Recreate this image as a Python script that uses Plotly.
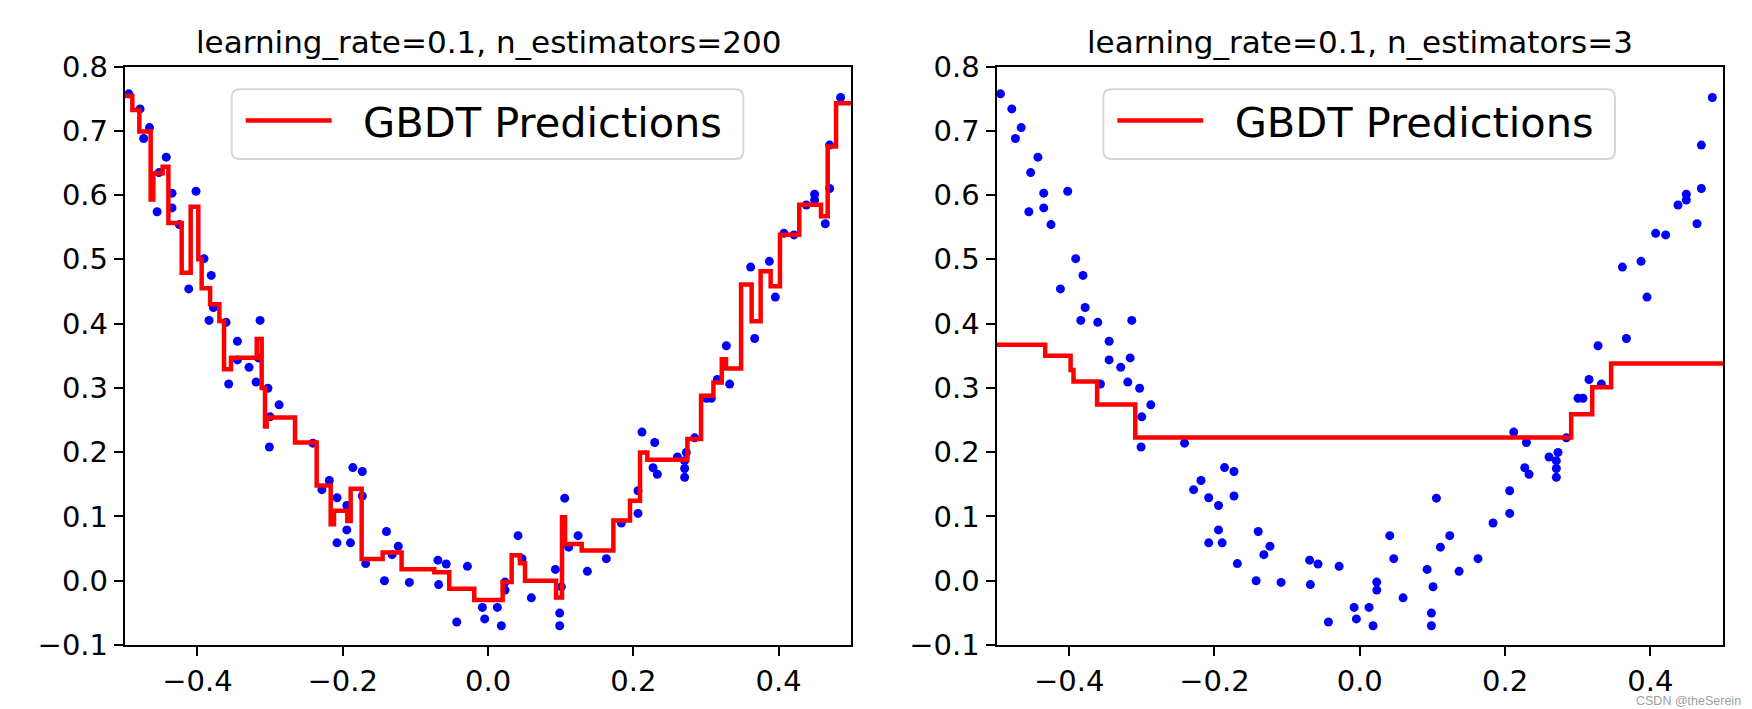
import plotly.graph_objects as go

# ---- data ----
X = [-0.4945, -0.479, -0.466, -0.474, -0.443, -0.453, -0.435, -0.402, -0.4555, -0.435,
     -0.425, -0.391, -0.381, -0.412, -0.378, -0.384, -0.3606, -0.3138, -0.345, -0.345,
     -0.316, -0.329, -0.357, -0.3193, -0.303, -0.2876, -0.300,
     -0.301, -0.2412, -0.1861, -0.1731, -0.2185, -0.2287, -0.2079, -0.1731, -0.1944, -0.1944,
     -0.2079, -0.1894, -0.1398, -0.1236, -0.132, -0.1685, -0.1426, -0.1083, -0.069, -0.0575,
     -0.068,
     -0.0284, -0.0431, -0.0078, -0.0046, 0.0128, 0.0183, 0.0234, 0.0234, 0.0413, 0.0468,
     0.0596, 0.0927, 0.1009, 0.0986, 0.0986, 0.1055, 0.111, 0.1239, 0.1367, 0.1628,
     0.1835, 0.2064, 0.2064, 0.2119, 0.2294, 0.2271, 0.233, 0.2606, 0.2729, 0.2706,
     0.2706, 0.2706, 0.2844, 0.3005, 0.3073, 0.3156, 0.3326, 0.328, 0.3615, 0.367,
     0.3872, 0.3954, 0.4073, 0.4211, 0.4381, 0.4495, 0.4495, 0.4702, 0.4642, 0.4702,
     0.4853]
Y = [0.7575, 0.734, 0.705, 0.688, 0.659, 0.635, 0.603, 0.606, 0.574, 0.580,
     0.554, 0.501, 0.475, 0.454, 0.425, 0.405, 0.402, 0.405, 0.3725, 0.3435,
     0.3466, 0.332, 0.306, 0.309, 0.2995, 0.2736, 0.255,
     0.208, 0.214, 0.176, 0.170, 0.156, 0.1417, 0.129, 0.1318, 0.117, 0.079,
     0.0589, 0.0589, 0.0766, 0.0536, 0.0406, 0.0266, 0.0, -0.0026, 0.032, 0.026,
     -0.006,
     0.0224, -0.0642, -0.0415, -0.0594, -0.0415, -0.0701, -0.0021, -0.0146, 0.0701, 0.0343,
     -0.0266, 0.0176, -0.0093, -0.0504, -0.0701, 0.1285, 0.0522, 0.0701, 0.0146, 0.0343,
     0.0898, 0.1047, 0.1399, 0.2312, 0.2151, 0.1757, 0.1656, 0.1925, 0.1996, 0.1865,
     0.1746, 0.1608, 0.2223, 0.2838, 0.2838, 0.313, 0.3059, 0.3655, 0.4879, 0.3768,
     0.4969, 0.4413, 0.5404, 0.538, 0.5846, 0.6013, 0.5923, 0.6102, 0.5553, 0.6777,
     0.7517]

# GBDT predictions, 200 estimators (step function: level starting at each x)
pred200_x = [-0.5, -0.4896, -0.48, -0.4644, -0.4607, -0.4479, -0.44, -0.4217, -0.4093, -0.3988,
             -0.3942, -0.3826, -0.3698, -0.3634, -0.3538, -0.3184, -0.3116, -0.307, -0.3047, -0.2657,
             -0.2359, -0.2166, -0.212, -0.1937, -0.1891, -0.174, -0.1451, -0.119, -0.074, -0.0534,
             -0.019, 0.0201, 0.0325, 0.044, 0.0509, 0.0936, 0.1018, 0.106, 0.1289, 0.1725,
             0.1954, 0.2092, 0.2193, 0.2744, 0.2932, 0.3102, 0.3217, 0.3276, 0.3483, 0.3628,
             0.3752, 0.389, 0.4018, 0.4284, 0.4583, 0.4675, 0.479, 0.5]
pred200_y = [0.754, 0.7325, 0.699, 0.593, 0.634, 0.644, 0.5565, 0.479, 0.582, 0.50,
             0.455, 0.43, 0.404, 0.329, 0.347, 0.376, 0.30, 0.24, 0.254, 0.2152,
             0.148, 0.088, 0.109, 0.093, 0.143, 0.0337, 0.044, 0.018, 0.013, -0.0123,
             -0.03, -0.002, 0.0395, 0.027, 0.0, -0.026, 0.0986, 0.0572, 0.0469, 0.0935,
             0.1246, 0.1995, 0.1882, 0.2203, 0.2876, 0.3083, 0.3445, 0.33, 0.4608, 0.4038,
             0.4814, 0.4582, 0.5384, 0.585, 0.567, 0.6754, 0.7427, 0.7427]

# GBDT predictions, 3 estimators
pred3_x = [-0.5, -0.433, -0.398, -0.394, -0.3615, -0.309, 0.291, 0.320, 0.346, 0.5]
pred3_y = [0.367, 0.350, 0.328, 0.310, 0.274, 0.223, 0.259, 0.301, 0.338, 0.338]

titles = ["learning_rate=0.1, n_estimators=200", "learning_rate=0.1, n_estimators=3"]
legend_label = "GBDT Predictions"
watermark = "CSDN @theSerein"
x_ticks = [-0.4, -0.2, 0.0, 0.2, 0.4]
y_ticks = [-0.1, 0.0, 0.1, 0.2, 0.3, 0.4, 0.5, 0.6, 0.7, 0.8]


def fmt(v):
    s = f"{abs(v):.1f}"
    return ("\u2212" + s) if v < -1e-9 else s


# ---- layout geometry (page pixels; page body has an 8px margin) ----
OFF = 8
W, H = 1752 - OFF, 709 - OFF


def px(x):
    return (x - OFF) / W


def py(y):
    return 1 - (y - OFF) / H


FONT = "DejaVu Sans"
fig = go.Figure()

for i, (sx, sy) in enumerate([(pred200_x, pred200_y), (pred3_x, pred3_y)]):
    xa = "x" if i == 0 else "x2"
    ya = "y" if i == 0 else "y2"
    fig.add_trace(go.Scatter(x=X, y=Y, mode="markers", xaxis=xa, yaxis=ya,
                             marker=dict(color="#0000ff", size=9, line=dict(width=0)),
                             showlegend=False, hoverinfo="skip"))
    fig.add_trace(go.Scatter(x=sx, y=sy, mode="lines", line_shape="hv", xaxis=xa, yaxis=ya,
                             line=dict(color="#ff0000", width=4.5),
                             name="\u00a0\u00a0" + legend_label,
                             legend="legend" if i == 0 else "legend2"))

axis_common = dict(showline=True, linecolor="black", linewidth=2, mirror=True,
                   ticks="outside", ticklen=9, tickwidth=2, tickcolor="black",
                   showgrid=False, zeroline=False, automargin=False,
                   tickfont=dict(family=FONT, size=29, color="black"))

xd1 = [px(124.8), px(851.3)]
xd2 = [px(996.5), px(1723.0)]
yd = [py(645.0), py(66.5)]

fig.layout["xaxis"] = dict(domain=xd1, anchor="y", range=[-0.5, 0.5], tickvals=x_ticks,
                           ticktext=[fmt(v) for v in x_ticks], **axis_common)
fig.layout["xaxis2"] = dict(domain=xd2, anchor="y2", range=[-0.5, 0.5], tickvals=x_ticks,
                            ticktext=[fmt(v) for v in x_ticks], **axis_common)
fig.layout["yaxis"] = dict(domain=yd, anchor="x", range=[-0.1, 0.8], tickvals=y_ticks,
                           ticktext=[fmt(v) for v in y_ticks], **axis_common)
fig.layout["yaxis2"] = dict(domain=yd, anchor="x2", range=[-0.1, 0.8], tickvals=y_ticks,
                            ticktext=[fmt(v) for v in y_ticks], **axis_common)

leg_common = dict(font=dict(family=FONT, size=41.5, color="black"), bgcolor="rgba(0,0,0,0)",
                  borderwidth=0, itemwidth=86, yanchor="top", y=py(87), xanchor="left")
fig.update_layout(
    legend=dict(x=px(240.7), **leg_common),
    legend2=dict(x=px(1112.3), **leg_common),
)


def rounded_box(x0, y0, x1, y1, r=8):
    X0, X1 = px(x0), px(x1)
    Y0, Y1 = py(y0), py(y1)
    rx, ry = r / W, r / H
    return (f"M{X0 + rx},{Y0} L{X1 - rx},{Y0} Q{X1},{Y0} {X1},{Y0 - ry} "
            f"L{X1},{Y1 + ry} Q{X1},{Y1} {X1 - rx},{Y1} L{X0 + rx},{Y1} "
            f"Q{X0},{Y1} {X0},{Y1 + ry} L{X0},{Y0 - ry} Q{X0},{Y0} {X0 + rx},{Y0} Z")


shapes = []
for (bx0, bx1) in ((231.7, 743.3), (1103.3, 1615.0)):
    shapes.append(dict(type="path", xref="paper", yref="paper", layer="above",
                       path=rounded_box(bx0, 89.3, bx1, 159.0),
                       fillcolor="rgba(255,255,255,0.8)",
                       line=dict(color="#d6d6d6", width=2)))

annotations = []
for t, dom in zip(titles, (xd1, xd2)):
    annotations.append(dict(text=t, x=sum(dom) / 2, y=py(42), xref="paper", yref="paper",
                            xanchor="center", yanchor="middle", showarrow=False,
                            font=dict(family=FONT, size=31, color="black")))
annotations.append(dict(text=watermark, x=px(1742), y=py(701), xref="paper",
                        yref="paper", xanchor="right", yanchor="middle", showarrow=False,
                        borderpad=0,
                        font=dict(family="Liberation Sans", size=12.5, color="#a0a0a0")))

fig.update_layout(width=W, height=H, margin=dict(l=0, r=0, t=0, b=0),
                  paper_bgcolor="white", plot_bgcolor="white",
                  annotations=annotations, shapes=shapes)

fig.write_html("out.html")
